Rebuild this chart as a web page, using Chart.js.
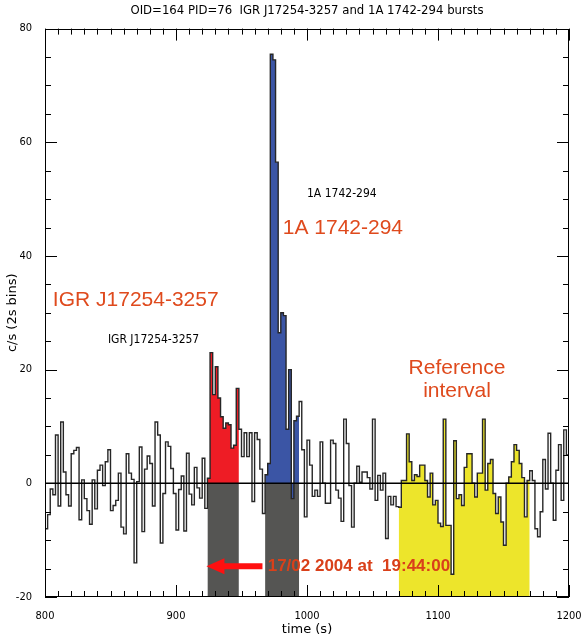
<!DOCTYPE html>
<html><head><meta charset="utf-8">
<script src="https://cdn.jsdelivr.net/npm/chart.js@4"></script>
<style>html,body{margin:0;padding:0;background:#fff}canvas{display:block}</style>
</head><body>
<canvas id="c" width="581" height="639"></canvas>
<script>
// ---- data ----
const chartTitle = 'OID=164 PID=76  IGR J17254-3257 and 1A 1742-294 bursts';
const binStart = 800;          // s, start of first 2 s bin
const binWidth = 2;            // s
const countRates = [
  -8, -5.5, -1, -2, 8.5, -4, 10.8, 2, -2, -4,
  5.2, 5.8, 6.3, -6.4, 0.6, -2.7, -4.8, -7.2, 0.6, -4.5,
  2.3, 3.2, -0.4, 3.8, 5.9, -4.8, -3.9, -3, 1.8, -7.7,
  -8.9, 5.2, 1.8, 0.7, -14, 0.3, 6.4, -8.5, 2.5, 4.8,
  3.5, -4, 10.8, 8.5, -10.5, -1.8, 7.3, 6.5, 2.6, -1.8,
  -8.2, -1.1, 1.3, -8.4, 5.3, -1.9, -3.8, 2.8, -0.8, -2.6,
  4.4, -4.4, 0.9, 23, 15.6, 20.5, 15, 11.7, 9.7, 10.6,
  10.3, 6.2, 6.7, 16.7, 9.5, 4.7, 8.9, 4.7, 8.9, -3.2,
  8.9, 7.7, 2.5, -5.3, 1.5, 3.5, 75.5, 74.5, 56.5, 26.5,
  30, 29.5, 9.5, 20, -2.7, 11, 11.8, 14.4, 5.9, -5.9,
  7.6, 3.2, -2.3, -1.2, -2.3, 7.3, 0, -3.5, -3.5, 7.6,
  7, -1.2, -2.6, -6.7, 11.3, 7, -0.4, -7.7, 0, 3,
  0.2, 2, 2, 1, -1, 11.3, -3, 1.4, -1.2, 1.8,
  -9.7, -2.3, -3.8, -2.3, -4.1, -4.2, 0.5, 0.5, 8.7, 3.8,
  0.5, 1.5, 1.2, 3.2, 3.2, 0.5, -2.4, 1.8, -3.8, -3,
  -7, -7.6, 11.3, -7.4, -7.4, -16, 7.5, -2.7, -2, -3.9,
  2.8, 5.2, 5.2, 0, -2.4, 1.8, 1.8, 11.3, -1.2, 3.5,
  4.2, -1.8, -5.3, -2.4, -6.8, -10.9, 0, 1.1, 3.8, 6.8,
  5.8, 3.5, 1, -5.9, 0.5, 2.2, 0.5, -8, -9.4, -5,
  4.2, -1, 8.8, 0, -6.5, 2.3, 6.8, -3, 9.4, 5
];
const igrInterval = [924, 948];     // IGR J17254-3257 burst (red)
const aBurstInterval = [968, 994];  // 1A 1742-294 burst (blue)
const refInterval = [1070, 1170];   // reference interval (yellow)
const xRange = [800, 1200];
const yRange = [-20, 80];
const xTickLabels = [800, 900, 1000, 1100, 1200];
const yTickLabels = [-20, 0, 20, 40, 60, 80];
const xTitle = 'time (s)';
const yTitle = 'c/s (2s bins)';
const labelIgrBig = 'IGR J17254-3257';
const labelIgrSmall = 'IGR J17254-3257';
const label1ABig = '1A 1742-294';
const label1ASmall = '1A 1742-294';
const labelRef = ['Reference', 'interval'];
const labelDate = '17/02 2004 at  19:44:00';

// ---- build step-histogram point lists from the bins ----
function histPoints(t0, t1) {
  const pts = [];
  let last = null;
  countRates.forEach((v, i) => {
    const t = binStart + i * binWidth;
    if (t >= t0 && t < t1) { pts.push({x: t, y: v}); last = v; }
  });
  pts.push({x: t1, y: last});
  return pts;
}
const flatPoints = (iv, v) => [{x: iv[0], y: v}, {x: iv[1], y: v}];

const ORANGE = '#df4a1d';
const COND = "'DejaVu Sans Condensed','DejaVu Sans',sans-serif";
const WIDE = "'DejaVu Sans',sans-serif";

const decor = {
  id: 'decor',
  afterDatasetsDraw(chart) {
    const {ctx, chartArea: a, scales: {x, y}} = chart;
    ctx.save();
    ctx.strokeStyle = '#000';
    ctx.lineWidth = 1;
    ctx.strokeRect(Math.round(a.left) + 0.5, Math.round(a.top) + 0.5,
      Math.round(a.right - a.left) - 1, Math.round(a.bottom - a.top) - 1);
    ctx.beginPath();
    for (let t = xRange[0]; t <= xRange[1]; t += 10) {
      const px = Math.round(x.getPixelForValue(t)) + 0.5;
      const len = (t % 100 === 0) ? 12 : 6;
      ctx.moveTo(px, a.bottom); ctx.lineTo(px, a.bottom - len);
      ctx.moveTo(px, a.top); ctx.lineTo(px, a.top + len);
    }
    for (let v = yRange[0]; v <= yRange[1]; v += 5) {
      const py = Math.round(y.getPixelForValue(v)) + 0.5;
      const len = (v % 20 === 0) ? 12 : 6;
      ctx.moveTo(a.left, py); ctx.lineTo(a.left + len, py);
      ctx.moveTo(a.right, py); ctx.lineTo(a.right - len, py);
    }
    ctx.stroke();

    const X = t => x.getPixelForValue(t), Y = v => y.getPixelForValue(v);
    ctx.fillStyle = ORANGE;
    ctx.font = "21px 'Liberation Sans', Arial, sans-serif";
    ctx.textBaseline = 'alphabetic';
    ctx.textAlign = 'left';
    ctx.fillText(labelIgrBig, X(806), Y(31.2));
    ctx.fillText(label1ABig, X(981.5), Y(43.8));
    ctx.textAlign = 'center';
    ctx.fillText(labelRef[0], X(1114.5), Y(19.2));
    ctx.fillText(labelRef[1], X(1114.5), Y(15.1));

    ctx.fillStyle = '#000';
    ctx.font = "12px " + COND;
    ctx.textAlign = 'left';
    ctx.textBaseline = 'middle';
    ctx.fillText(labelIgrSmall, X(848), Y(25.2));
    ctx.fillText(label1ASmall, X(1000), Y(51));

    ctx.fillStyle = '#d9401a';
    ctx.font = "bold 17px 'Liberation Sans', Arial, sans-serif";
    ctx.fillText(labelDate, X(970), Y(-14.6));
    const yA = Y(-14.6), tip = X(igrInterval[0]) - 1, tail = X(966);
    ctx.fillStyle = '#ff1010';
    ctx.beginPath();
    ctx.moveTo(tip, yA);
    ctx.lineTo(tip + 18, yA - 8);
    ctx.lineTo(tip + 18, yA - 3);
    ctx.lineTo(tail, yA - 3);
    ctx.lineTo(tail, yA + 3);
    ctx.lineTo(tip + 18, yA + 3);
    ctx.lineTo(tip + 18, yA + 8);
    ctx.closePath();
    ctx.fill();
    ctx.restore();
  }
};

new Chart(document.getElementById('c'), {
  type: 'line',
  data: {
    datasets: [
      { label: 'zero', data: [{x: xRange[0], y: 0}, {x: xRange[1], y: 0}],
        borderColor: '#000', borderWidth: 1.6, pointRadius: 0, fill: false, order: 0 },
      { label: 'counts', data: histPoints(xRange[0], xRange[1]), stepped: true,
        borderColor: '#262626', borderWidth: 1.4, pointRadius: 0, fill: false, order: 1 },
      { label: 'IGR', data: histPoints(igrInterval[0], igrInterval[1]), stepped: true,
        borderWidth: 0, borderColor: 'rgba(0,0,0,0)', backgroundColor: '#ee1c25',
        pointRadius: 0, fill: {value: 0}, order: 2 },
      { label: '1A', data: histPoints(aBurstInterval[0], aBurstInterval[1]), stepped: true,
        borderWidth: 0, borderColor: 'rgba(0,0,0,0)', backgroundColor: '#3b55a5',
        pointRadius: 0, fill: {value: 0}, order: 2 },
      { label: 'ref', data: histPoints(refInterval[0], refInterval[1]), stepped: true,
        borderWidth: 0, borderColor: 'rgba(0,0,0,0)', backgroundColor: '#ede52b',
        pointRadius: 0, fill: {value: yRange[0]}, order: 3 },
      { label: 'bgIGR', data: flatPoints(igrInterval, 0),
        borderWidth: 0, borderColor: 'rgba(0,0,0,0)', backgroundColor: '#555553',
        pointRadius: 0, fill: {value: yRange[0]}, order: 4 },
      { label: 'bg1A', data: flatPoints(aBurstInterval, 0),
        borderWidth: 0, borderColor: 'rgba(0,0,0,0)', backgroundColor: '#555553',
        pointRadius: 0, fill: {value: yRange[0]}, order: 4 }
    ]
  },
  options: {
    responsive: false,
    devicePixelRatio: 1,
    animation: false,
    layout: { padding: { left: 0, right: 12, top: 0, bottom: 0 } },
    plugins: {
      legend: { display: false },
      tooltip: { enabled: false },
      title: { display: true, text: chartTitle, fullSize: false, color: '#000',
        font: { family: COND, size: 13, weight: 'normal' },
        padding: { top: 3, bottom: 10 } }
    },
    scales: {
      x: {
        type: 'linear', min: xRange[0], max: xRange[1],
        grid: { display: false },
        border: { display: false },
        afterFit: s => { s.height = 42; s.paddingLeft = 0; s.paddingRight = 0; },
        afterBuildTicks: s => { s.ticks = xTickLabels.map(v => ({value: v})); },
        ticks: { color: '#000', padding: 5, maxRotation: 0,
          callback: v => String(v),
          font: { family: COND, size: 11 } },
        title: { display: true, text: xTitle, color: '#000',
          font: { family: WIDE, size: 13 }, padding: { top: 0, bottom: 2 } }
      },
      y: {
        type: 'linear', min: yRange[0], max: yRange[1],
        grid: { display: false },
        border: { display: false },
        afterFit: s => { s.width = 45; s.paddingTop = 0; s.paddingBottom = 0; },
        afterBuildTicks: s => { s.ticks = yTickLabels.map(v => ({value: v})); },
        ticks: { color: '#000', padding: 5, callback: v => String(v),
          font: { family: COND, size: 11 } },
        title: { display: true, text: yTitle, color: '#000',
          font: { family: WIDE, size: 13 }, padding: { top: 5, bottom: 0 } }
      }
    }
  },
  plugins: [decor]
});
</script>
</body></html>
